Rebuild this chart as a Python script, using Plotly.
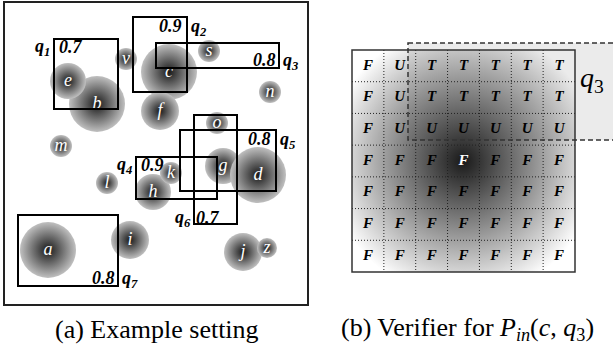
import plotly.graph_objects as go

# ---------------- data: panel (a) ----------------
circle_names = ['b', 'e', 'c', 'v', 's', 'n', 'f', 'o', 'm', 'g', 'd', 'h', 'k', 'l', 'a', 'i', 'j', 'z']
circle_x = [97, 68, 169, 126, 209, 270, 160, 217, 61, 223, 258, 153, 171, 107, 48, 130, 243, 267]
circle_y = [104, 81, 72, 59, 51, 92, 111, 123, 146, 166, 175, 192, 173, 183, 250, 240, 252, 248]
circle_r = [28, 18, 28, 11, 11, 11, 19, 11, 11, 18, 28, 18, 11, 11, 28, 19, 19, 10]

query_names = ['1', '2', '3', '4', '5', '6', '7']
query_x0 = [54, 133, 156, 136, 180, 194, 18]
query_y0 = [39, 17, 43, 157, 130, 115, 215]
query_x1 = [118, 187, 279, 217, 276, 237, 118]
query_y1 = [109, 92, 68, 199, 191, 224, 286]
query_prob = ['0.7', '0.9', '0.8', '0.9', '0.8', '0.7', '0.8']
query_label_pos = ['tl', 'tr', 'br', 'tl', 'tr', 'bl', 'br']

# ---------------- data: panel (b) ----------------
cell_labels = [
    ['F', 'U', 'T', 'T', 'T', 'T', 'T'],
    ['F', 'U', 'T', 'T', 'T', 'T', 'T'],
    ['F', 'U', 'U', 'U', 'U', 'U', 'U'],
    ['F', 'F', 'F', 'F', 'F', 'F', 'F'],
    ['F', 'F', 'F', 'F', 'F', 'F', 'F'],
    ['F', 'F', 'F', 'F', 'F', 'F', 'F'],
    ['F', 'F', 'F', 'F', 'F', 'F', 'F'],
]
highlight_cell = (3, 3)

captions = ['(a) Example setting',
            '(b) Verifier for <i>P<sub>in</sub></i>(<i>c</i>, <i>q</i><sub>3</sub>)']

# ---------------- layout geometry (pixels) ----------------
W, H = 613, 346
SERIF = 'Liberation Serif'
frame_a = (4, 2, 308, 305)
grid_box = (352, 50, 575, 272)
q3_box = (408, 43, 640, 140)
blob_center = (463, 161)
blob_diam = 272

fig = go.Figure()
shapes = []
annotations = []

# q3 light fill in panel (b) (below traces)
shapes.append(dict(type='rect', xref='x', yref='y', x0=q3_box[0], y0=q3_box[1], x1=q3_box[2], y1=q3_box[3],
                   fillcolor='#ebebeb', line=dict(width=0), layer='below'))

# panel (a) circles
fig.add_trace(go.Scatter(
    x=circle_x, y=circle_y, mode='markers+text', text=[f'<i>{n}</i>' for n in circle_names],
    textposition='middle center',
    textfont=dict(family=SERIF, size=18, color='white'),
    marker=dict(size=[2 * r for r in circle_r], color='rgb(192,192,192)',
                gradient=dict(type='radial', color='rgb(25,25,25)'),
                line=dict(width=0), opacity=1),
    hoverinfo='skip', showlegend=False, xaxis='x', yaxis='y'))

# panel (b) gradient blob (clipped to grid)
fig.add_trace(go.Scatter(
    x=[blob_center[0]], y=[blob_center[1]], mode='markers',
    marker=dict(size=blob_diam, color='rgba(25,25,25,0)',
                gradient=dict(type='radial', color='rgba(25,25,25,1)'),
                line=dict(width=0)),
    cliponaxis=True, hoverinfo='skip', showlegend=False, xaxis='x2', yaxis='y2'))

# cell labels
gx0, gy0, gx1, gy1 = grid_box
nr = len(cell_labels)
nc = len(cell_labels[0])
cw = (gx1 - gx0) / nc
ch = (gy1 - gy0) / nr
tx, ty, tt, tc = [], [], [], []
for i, row in enumerate(cell_labels):
    for j, lab in enumerate(row):
        tx.append(gx0 + (j + 0.5) * cw)
        ty.append(gy0 + (i + 0.5) * ch)
        tt.append(f'<b><i>{lab}</i></b>')
        tc.append('white' if (i, j) == highlight_cell else 'black')
fig.add_trace(go.Scatter(
    x=tx, y=ty, mode='text', text=tt, textposition='middle center',
    textfont=dict(family=SERIF, size=15, color=tc),
    cliponaxis=False, hoverinfo='skip', showlegend=False, xaxis='x2', yaxis='y2'))

# grid lines (dotted)
for j in range(1, nc):
    x = gx0 + j * cw
    shapes.append(dict(type='line', xref='x', yref='y', x0=x, x1=x, y0=gy0, y1=gy1,
                       line=dict(color='#222', width=1, dash='1px,2px'), layer='above'))
for i in range(1, nr):
    y = gy0 + i * ch
    shapes.append(dict(type='line', xref='x', yref='y', x0=gx0, x1=gx1, y0=y, y1=y,
                       line=dict(color='#222', width=1, dash='1px,2px'), layer='above'))
shapes.append(dict(type='rect', xref='x', yref='y', x0=gx0, y0=gy0, x1=gx1, y1=gy1,
                   line=dict(color='#333', width=1.5), layer='above'))
# q3 dashed outline
shapes.append(dict(type='rect', xref='x', yref='y', x0=q3_box[0], y0=q3_box[1], x1=q3_box[2], y1=q3_box[3],
                   line=dict(color='#333', width=1.5, dash='5px,3px'), layer='above'))
annotations.append(dict(x=592, y=79, xref='x', yref='y', text='<i>q</i><sub>3</sub>', showarrow=False,
                        font=dict(family=SERIF, size=28, color='black'), xanchor='center', yanchor='middle'))

# panel (a) frame
shapes.append(dict(type='rect', xref='x', yref='y', x0=frame_a[0], y0=frame_a[1], x1=frame_a[2], y1=frame_a[3],
                   line=dict(color='#222', width=2), layer='above'))

# query rectangles
for name, x0, y0, x1, y1, p, pos in zip(query_names, query_x0, query_y0, query_x1, query_y1,
                                       query_prob, query_label_pos):
    shapes.append(dict(type='rect', xref='x', yref='y', x0=x0, y0=y0, x1=x1, y1=y1,
                       line=dict(color='black', width=2), layer='above'))
    qtxt = f'<b><i>q</i></b><sub><b><i>{name}</i></b></sub>'
    ptxt = f'<b><i>{p}</i></b>'
    f = dict(family=SERIF, size=18, color='black')
    if pos == 'tl':
        annotations.append(dict(x=x0 - 2, y=y0 + 8, text=qtxt, xanchor='right'))
        annotations.append(dict(x=x0 + 3, y=y0 + 8, text=ptxt, xanchor='left'))
    elif pos == 'bl':
        annotations.append(dict(x=x0 - 1, y=y1 - 6, text=qtxt, xanchor='right'))
        annotations.append(dict(x=x0 + 0, y=y1 - 6, text=ptxt, xanchor='left'))
    elif pos == 'tr':
        annotations.append(dict(x=x1 - 3, y=y0 + 9, text=ptxt, xanchor='right'))
        annotations.append(dict(x=x1 + 2, y=y0 + 10, text=qtxt, xanchor='left'))
    else:  # 'br'
        annotations.append(dict(x=x1 - 1, y=y1 - 8, text=ptxt, xanchor='right'))
        annotations.append(dict(x=x1 + 2, y=y1 - 7, text=qtxt, xanchor='left'))
    for a in annotations[-2:]:
        a.update(xref='x', yref='y', showarrow=False, yanchor='middle', font=f)

# captions
for cx, txt in zip([157, 467], captions):
    annotations.append(dict(x=cx, y=329, xref='x', yref='y', text=txt, showarrow=False,
                            xanchor='center', yanchor='middle',
                            font=dict(family=SERIF, size=26, color='black')))

fig.update_layout(
    width=W, height=H, margin=dict(l=0, r=0, t=0, b=0),
    paper_bgcolor='white', plot_bgcolor='rgba(0,0,0,0)',
    font=dict(family=SERIF),
    xaxis=dict(range=[0, W], visible=False, domain=[0, 1], fixedrange=True),
    yaxis=dict(range=[H, 0], visible=False, domain=[0, 1], fixedrange=True),
    xaxis2=dict(range=[gx0, gx1], visible=False, domain=[gx0 / W, gx1 / W], anchor='y2', fixedrange=True),
    yaxis2=dict(range=[gy1, gy0], visible=False, domain=[1 - gy1 / H, 1 - gy0 / H], anchor='x2', fixedrange=True),
    shapes=shapes, annotations=annotations, showlegend=False,
)

fig.write_html('out.html', config=dict(displayModeBar=False),
               post_script="document.body.style.margin='0';")
